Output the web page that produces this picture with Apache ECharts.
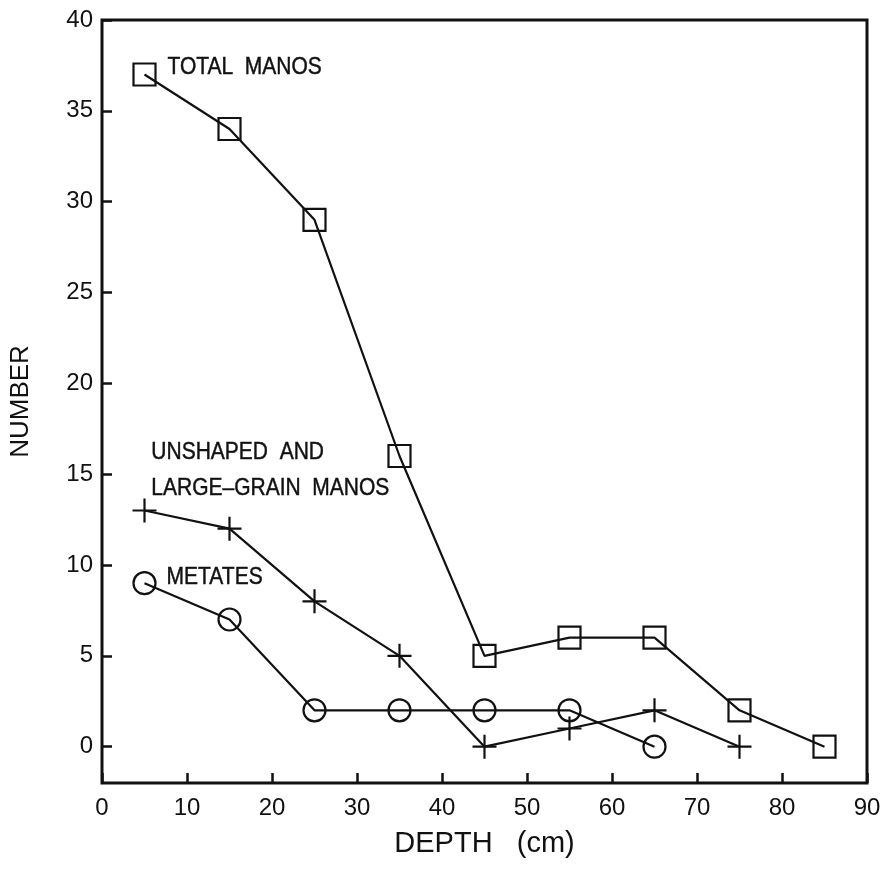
<!DOCTYPE html>
<html>
<head>
<meta charset="utf-8">
<script src="https://cdn.jsdelivr.net/npm/echarts@6/dist/echarts.min.js"></script>
<style>
  html, body { margin: 0; padding: 0; background: #fff; }
  #chart { width: 889px; height: 874px; }
</style>
</head>
<body>
<div id="chart"></div>
<script>
// depth midpoints (cm)
const depths = [5, 15, 25, 35, 45, 55, 65, 75, 85];
const totalManos = [37, 34, 29, 16, 5, 6, 6, 2, 0];
const unshapedManos = [13, 12, 8, 5, 0, 1, 2, 0];
const metates = [9, 7, 2, 2, 2, 2, 0];
const yTicks = [0, 5, 10, 15, 20, 25, 30, 35, 40];

// annotation text, anchored in data coords
const notes = [
  { text: 'TOTAL  MANOS', at: [7.7, 37.4] },
  { text: 'UNSHAPED  AND', at: [5.8, 16.2] },
  { text: 'LARGE\u2013GRAIN  MANOS', at: [5.8, 14.2] },
  { text: 'METATES', at: [7.6, 9.3] }
];

const pair = (vals) => vals.map((v, i) => [depths[i], v]);

const plus = 'path://M0,10 L20,10 M10,0 L10,20';
const font = "'Liberation Sans', Arial, sans-serif";

const chart = echarts.init(document.getElementById('chart'), null, { renderer: 'canvas' });

function lineSeries(data, symbol, size) {
  return {
    type: 'line',
    data: data,
    symbol: symbol,
    symbolSize: size,
    showAllSymbol: true,
    lineStyle: { color: '#111', width: 2.2 },
    itemStyle: { color: 'none', borderColor: '#111', borderWidth: 2.2 },
    emphasis: { disabled: true },
    z: 3
  };
}

chart.setOption({
  animation: false,
  backgroundColor: '#fff',
  grid: {
    left: 97, top: 20, right: 22, bottom: 91,
    show: true, borderColor: '#111', borderWidth: 3
  },
  xAxis: {
    type: 'value',
    min: 0, max: 90, interval: 10,
    name: 'DEPTH   (cm)',
    nameLocation: 'middle',
    nameGap: 46,
    nameTextStyle: { fontFamily: font, fontSize: 29, color: '#111' },
    axisLine: { show: false, onZero: false },
    axisTick: { inside: true, length: 10, lineStyle: { color: '#111', width: 2.5 } },
    axisLabel: { fontFamily: font, fontSize: 24, color: '#111', margin: 13 },
    splitLine: { show: false }
  },
  yAxis: {
    type: 'value',
    min: -2, max: 40,
    name: 'NUMBER',
    nameLocation: 'middle',
    nameGap: 68,
    nameTextStyle: { fontFamily: font, fontSize: 26, color: '#111' },
    axisLine: { show: false, onZero: false },
    axisTick: { inside: true, length: 10, customValues: yTicks, lineStyle: { color: '#111', width: 2.5 } },
    axisLabel: { fontFamily: font, fontSize: 24, color: '#111', margin: 9, customValues: yTicks },
    splitLine: { show: false }
  },
  series: [
    lineSeries(pair(totalManos), 'rect', 22),
    lineSeries(pair(unshapedManos), plus, 24),
    lineSeries(pair(metates), 'circle', 22)
  ]
});

chart.setOption({
  graphic: notes.map((n) => {
    const p = chart.convertToPixel({ gridIndex: 0 }, n.at);
    return {
      type: 'text',
      x: p[0], y: p[1],
      scaleY: 1.15,
      style: {
        text: n.text,
        fontFamily: font,
        fontSize: 21,
        fill: '#111',
        stroke: '#111',
        lineWidth: 0.4,
        verticalAlign: 'middle',
        align: 'left'
      }
    };
  })
});
</script>
</body>
</html>
